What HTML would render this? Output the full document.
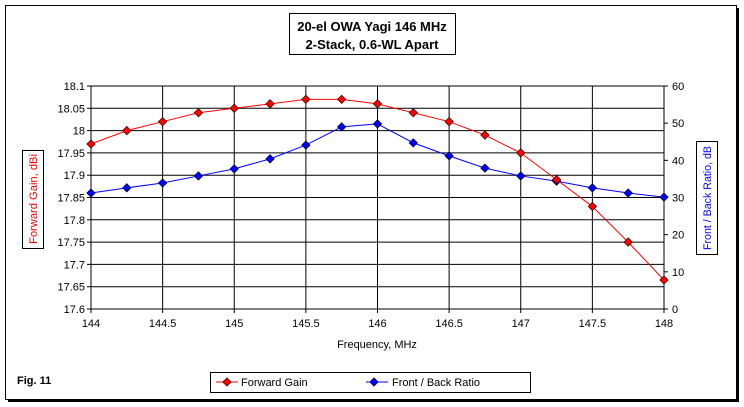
<!DOCTYPE html>
<html><head><style>
body{margin:0;background:#fff;}
svg{display:block;font-family:"Liberation Sans",Arial,sans-serif;}
</style></head><body>
<svg id="s" width="744" height="407" viewBox="0 0 744 407">
<rect x="0" y="0" width="744" height="407" fill="#fff"/>
<rect x="5.5" y="5.5" width="731" height="394" fill="none" stroke="#000" stroke-width="1"/>
<rect x="8" y="399" width="731" height="3" fill="#000"/>
<rect x="736" y="8" width="3" height="394" fill="#000"/>
<rect x="289.5" y="13.5" width="166" height="41" fill="#fff" stroke="#000"/>
<text x="372" y="31" font-size="13" font-weight="bold" text-anchor="middle">20-el OWA Yagi 146 MHz</text>
<text x="372" y="49" font-size="13" font-weight="bold" text-anchor="middle">2-Stack, 0.6-WL Apart</text>
<g id="g"></g>
<rect x="22.5" y="150.5" width="21" height="98" fill="#fff" stroke="#000"/>
<text transform="translate(37,199) rotate(-90)" font-size="11" fill="#f00" text-anchor="middle" textLength="90" lengthAdjust="spacingAndGlyphs">Forward Gain,  dBi</text>
<rect x="696.5" y="141.5" width="21" height="113" fill="#fff" stroke="#000"/>
<text transform="translate(711,198) rotate(-90)" font-size="11" fill="#00f" text-anchor="middle" textLength="104" lengthAdjust="spacingAndGlyphs">Front / Back Ratio,  dB</text>
<text x="377" y="348" font-size="11" text-anchor="middle">Frequency, MHz</text>
<text x="17" y="384" font-size="11" font-weight="bold">Fig. 11</text>
<rect x="210.5" y="372.5" width="320" height="20" fill="#fff" stroke="#000"/>
<line x1="216" y1="382" x2="238" y2="382" stroke="#f00"/>
<rect x="224" y="379" width="6" height="6" transform="rotate(45 227 382)" fill="#f00" stroke="#000" stroke-width="0.6"/>
<text x="241" y="386" font-size="11">Forward Gain</text>
<line x1="366" y1="382" x2="388" y2="382" stroke="#00f"/>
<rect x="371" y="379" width="6" height="6" transform="rotate(45 374 382)" fill="#00f" stroke="#000" stroke-width="0.6"/>
<text x="392" y="386" font-size="11">Front / Back Ratio</text>
</svg>
<script>
const g=document.getElementById('g');let h='';
const L=91,R=664,T=86,B=309;
const X=f=>L+(f-144)/4*(R-L);
const YG=v=>B-(v-17.6)/0.5*(B-T);
const YF=v=>B-v/60*(B-T);
for(let i=0;i<=10;i++){const y=T+i*(B-T)/10;h+=`<line x1="${L}" x2="${R}" y1="${y}" y2="${y}" stroke="#000"/>`;
h+=`<line x1="${L-4}" x2="${L}" y1="${y}" y2="${y}" stroke="#000"/>`;
h+=`<text x="${L-6}" y="${y+4}" font-size="11" text-anchor="end">${(18.1-i*0.05).toFixed(2).replace(/0$/,'').replace(/\.0?$/,'')}</text>`;}
for(let i=0;i<=6;i++){const y=B-i*(B-T)/6;h+=`<line x1="${R}" x2="${R+4}" y1="${y}" y2="${y}" stroke="#000"/><text x="${R+8}" y="${y+4}" font-size="11">${i*10}</text>`;}
for(let i=0;i<=8;i++){const x=L+i*(R-L)/8;h+=`<line x1="${x}" x2="${x}" y1="${T}" y2="${B+4}" stroke="#000"/><text x="${x}" y="${B+18}" font-size="11" text-anchor="middle">${144+i*0.5}</text>`;}
const G=[17.97,18.0,18.02,18.04,18.05,18.06,18.07,18.07,18.06,18.04,18.02,17.99,17.95,17.89,17.83,17.75,17.665];
const F=[31.2,32.6,33.9,35.8,37.7,40.4,44.1,49,49.8,44.7,41.2,37.9,35.8,34.4,32.6,31.2,30.1];
function ser(d,Y,c){let p=d.map((v,i)=>X(144+i*0.25)+','+Y(v)).join(' ');h+=`<polyline points="${p}" fill="none" stroke="${c}"/>`;
d.forEach((v,i)=>{const x=X(144+i*0.25),y=Y(v);h+=`<rect x="${x-3}" y="${y-3}" width="6" height="6" transform="rotate(45 ${x} ${y})" fill="${c}" stroke="#000" stroke-width="0.6"/>`;});}
ser(F,YF,'#00f');ser(G,YG,'#f00');
g.innerHTML=h;
</script>
</body></html>
